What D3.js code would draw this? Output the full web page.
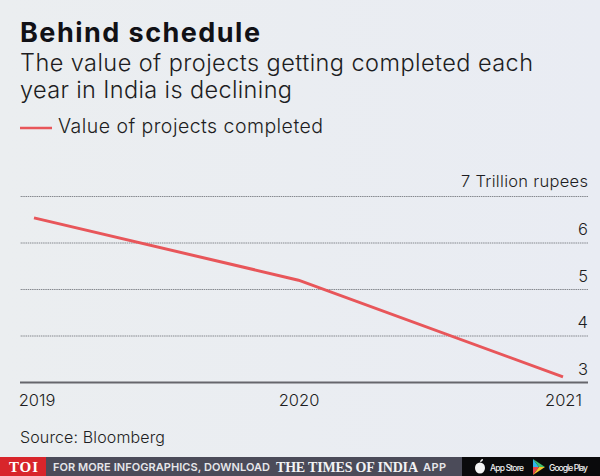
<!DOCTYPE html>
<html>
<head>
<meta charset="utf-8">
<script src="https://cdn.jsdelivr.net/npm/d3@7"></script>
<style>
  html, body { margin: 0; padding: 0; background: #eaedf2; }
  svg { display: block; }
  text { font-family: "Inter", "Open Sans", sans-serif; }
</style>
</head>
<body>
<script>
// The values.
var years = ["2019", "2020", "2021"];
var project_values = [6.53, 5.19, 3.11];
var y_ticks = [3, 4, 5, 6, 7];
var y_top_label = "7 Trillion rupees";

var svg_width = 600;
var svg_height = 476;

var svg = d3.select("body")
    .append("svg")
    .attr("width", svg_width)
    .attr("height", svg_height);

// Faint left to right shift in the background.
var grad = svg.append("defs").append("linearGradient").attr("id", "bg");
grad.append("stop").attr("offset", "0%").attr("stop-color", "#ebeef0");
grad.append("stop").attr("offset", "100%").attr("stop-color", "#e9ecf3");
svg.append("rect")
    .attr("width", svg_width)
    .attr("height", svg_height)
    .attr("fill", "url(#bg)");

// Headline block. textLength keeps the widths the same as the original font.
function addText(label, x, y, size, weight, fill, length) {
    var t = svg.append("text")
        .attr("x", x)
        .attr("y", y)
        .attr("font-size", size)
        .attr("font-weight", weight)
        .attr("fill", fill)
        .text(label);
    if (length) t.attr("textLength", length).attr("lengthAdjust", "spacing");
    return t;
}
addText("Behind schedule", 20, 41.5, 27, 700, "#111116", 240);
addText("The value of projects getting completed each", 20, 70.5, 23.5, 300, "#1d1d22", 513);
addText("year in India is declining", 20, 98, 23.5, 300, "#1d1d22", 272);

// Legend
var red = "#e8565a";
svg.append("line")
    .attr("x1", 20).attr("x2", 52)
    .attr("y1", 128).attr("y2", 128)
    .attr("stroke", red)
    .attr("stroke-width", 2.5);
addText("Value of projects completed", 58, 133, 19.5, 300, "#1d1d22", 265);

// Scales
var x_axis = d3.scalePoint().domain(years).range([34, 563]);
var y_axis = d3.scaleLinear().domain([3, 7]).range([382, 196]);

// Gridlines and labels on the right hand side.
var y_group = svg.append("g")
    .attr("transform", "translate(588,0)")
    .call(d3.axisLeft(y_axis)
        .tickValues(y_ticks)
        .tickSize(568)
        .tickFormat(function (d) { return d === 7 ? y_top_label : d; }));
y_group.select(".domain").remove();
y_group.selectAll(".tick line")
    .attr("stroke", function (d) { return d === 3 ? "#66666c" : "#85888e"; })
    .attr("stroke-width", function (d) { return d === 3 ? 2 : 1; })
    .attr("stroke-dasharray", function (d) { return d === 3 ? null : "1.5,0.7"; });
y_group.selectAll(".tick text")
    .attr("x", 0)
    .attr("dy", -8)
    .attr("text-anchor", "end")
    .attr("font-size", 16.5)
    .attr("font-family", "Inter")
    .attr("font-weight", 300)
    .attr("fill", "#1d1d22");
y_group.selectAll(".tick text")
    .filter(function (d) { return d === 7; })
    .attr("dy", -10)
    .attr("textLength", 127)
    .attr("lengthAdjust", "spacing");

// Year labels, the first one sits a little right of its point.
var x_group = svg.append("g")
    .attr("transform", "translate(0,382)")
    .call(d3.axisBottom(x_axis).tickSize(0).tickPadding(12));
x_group.select(".domain").remove();
x_group.selectAll("text")
    .attr("font-size", 16.5)
    .attr("font-family", "Inter")
    .attr("font-weight", 300)
    .attr("fill", "#1d1d22")
    .attr("dx", function (d) { return d === "2019" ? 2.5 : 0; });

// The line itself
var value_line = d3.line()
    .x(function (d, i) { return x_axis(years[i]); })
    .y(function (d) { return y_axis(d); });
svg.append("path")
    .datum(project_values)
    .attr("d", value_line)
    .attr("fill", "none")
    .attr("stroke", red)
    .attr("stroke-width", 3);

addText("Source: Bloomberg", 20, 443, 16, 300, "#1d1d22", 145);

// Footer strip
svg.append("rect").attr("y", 457).attr("width", 600).attr("height", 19).attr("fill", "#4b4b59");
svg.append("rect").attr("y", 457).attr("width", 46).attr("height", 19).attr("fill", "#d8252b");
svg.append("rect").attr("x", 462).attr("y", 457).attr("width", 138).attr("height", 19).attr("fill", "#0a0a0c");
addText("TOI", 9, 472, 15, 700, "#ffffff", 29).style("font-family", "Liberation Serif");
addText("FOR MORE INFOGRAPHICS, DOWNLOAD", 53, 471, 11, 600, "#e6e6ea", 217);
addText("THE TIMES OF INDIA", 276, 472, 14, 700, "#f2f2f4", 142).style("font-family", "Liberation Serif");
addText("APP", 423, 471, 11, 600, "#e6e6ea", 23);

// Store badges
svg.append("ellipse").attr("cx", 480).attr("cy", 468).attr("rx", 5).attr("ry", 5.5).attr("fill", "#f4f4f4");
svg.append("path").attr("d", "M480 462 Q480.5 459 483 459 Q483 461.5 480 462Z").attr("fill", "#f4f4f4");
addText("App Store", 490, 471, 8.5, 500, "#f0f0f0", 34);
svg.append("path").attr("d", "M533 459 L533 467 L539 467 Z").attr("fill", "#2fb6e8");
svg.append("path").attr("d", "M533 475 L533 467 L539 467 Z").attr("fill", "#e8434a");
svg.append("path").attr("d", "M533 459 L545 467 L539 467 Z").attr("fill", "#3fbf6f");
svg.append("path").attr("d", "M533 475 L545 467 L539 467 Z").attr("fill", "#f7c32e");
addText("Google Play", 549, 471, 8.5, 500, "#f0f0f0", 39);
</script>
</body>
</html>
